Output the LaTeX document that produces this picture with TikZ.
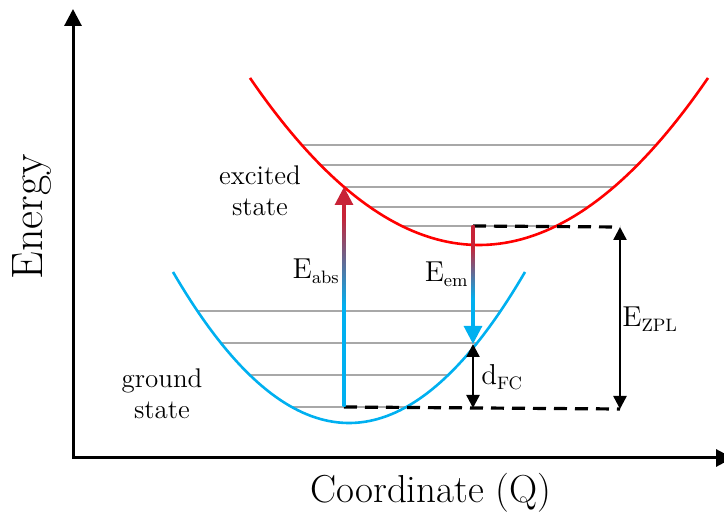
\documentclass[tikz,border=0pt]{standalone}
\usepackage{xcolor}
\usepackage{tikz}
\usetikzlibrary{arrows.meta, calc}
\definecolor{CCRed}{RGB}{255,0,0}
\definecolor{CCBlue}{RGB}{0,176,240}
\definecolor{CCCrimson}{RGB}{200,35,55}
\definecolor{CCGray}{RGB}{168,168,168}
\pgfdeclareverticalshading{absgrad}{100bp}{color(0bp)=(CCBlue); color(50bp)=(CCBlue);
  color(72bp)=(CCCrimson); color(100bp)=(CCCrimson)}
\pgfdeclareverticalshading{emgrad}{100bp}{color(0bp)=(CCBlue); color(39bp)=(CCBlue);
  color(65bp)=(CCCrimson); color(100bp)=(CCCrimson)}

\begin{document}
\begin{tikzpicture}[x=0.5pt, y=-0.5pt,
          level/.style={CCGray, line width=1pt},
          well/.style={line width=1.3pt},
          axis/.style={line width=1.5pt, {Triangle[length=8.5pt, width=8.5pt]}-{Triangle[length=8.5pt, width=8.5pt]}},
          guide/.style={line width=1.6pt, dash pattern=on 6.5pt off 4pt},
          dim/.style={line width=1.2pt, {Triangle[length=6.5pt, width=6.5pt]}-{Triangle[length=6.5pt, width=6.5pt]}},
          lbl/.style={font=\fontsize{13.5}{15.5}\selectfont, align=center, inner sep=0pt},
          tip/.style={line width=1.5pt, -{Triangle[length=9pt, width=9pt]}}
        ]
        \useasboundingbox (0,0) rectangle (724,513);

        % axes
        \coordinate (origin) at (73,458);
        \coordinate (ytop) at (73,9);
        \coordinate (xend) at (733,458);
        \draw[axis] (ytop) -- (origin) -- (xend);
        \node[font=\fontsize{22}{26}\selectfont, rotate=90, anchor=base, inner sep=0pt] (ylab) at (42,217) {Energy};
        \node[font=\fontsize{19.5}{23}\selectfont, anchor=base, inner sep=0pt] (xlab) at (431,503) {Coordinate (Q)};

        % vibrational levels
        \foreach \lv in {145,165,187,207,226}
          \draw[level] ({479-100*sqrt((245-\lv)/31.85)}, \lv) -- ({479+100*sqrt((245-\lv)/31.85)}, \lv);
        \foreach \lv in {311,343,375,407}
          \draw[level] ({349-100*sqrt((423-\lv)/48.75)}, \lv) -- ({349+100*sqrt((423-\lv)/48.75)}, \lv);

        % potential wells
        \draw[well, CCRed] plot[domain=250:708, samples=80] (\x, {245-31.85*((\x-479)/100)^2});
        \draw[well, CCBlue] plot[domain=173:525, samples=80] (\x, {423-48.75*((\x-349)/100)^2});

        \node[lbl] (exc) at (260,191) {excited\\state};
        \node[lbl] (gnd) at (162,394) {ground\\state};

        \coordinate (gAbs) at (344,407);
        \coordinate (eAbs) at (344,187);
        \coordinate (eEm) at (473,226);
        \coordinate (gEm) at (473,344);
        \coordinate (gFC) at (473,408);
        \coordinate (zplTop) at (620,227);
        \coordinate (zplBot) at (620,409);

        \draw[guide] (gAbs) -- (zplBot);
        \draw[guide] (eEm) -- (zplTop);

        % absorption
        \shade[shading=absgrad] ($(gAbs)+(-1.5,0)$) rectangle ($(eAbs)+(1.5,17)$);
        \draw[tip, CCCrimson] ($(eAbs)+(0,19)$) -- (eAbs);
        \node[lbl, anchor=base east] (eabs) at (340,279) {$\mathrm{E}_{\mathrm{abs}}$};

        % emission
        \shade[shading=emgrad] ($(eEm)+(-1.5,0)$) rectangle ($(gEm)+(1.5,-17)$);
        \draw[tip, CCBlue] ($(gEm)+(0,-19)$) -- (gEm);
        \node[lbl, anchor=base east] (eem) at (469,282) {$\mathrm{E}_{\mathrm{em}}$};

        \draw[dim] (gEm) -- (gFC);
        \node[lbl, anchor=base west] (dfc) at (481,385) {$\mathrm{d}_{\mathrm{FC}}$};
        \draw[dim] (zplTop) -- (zplBot);
        \node[lbl, anchor=base west] (ezpl) at (622,327) {$\mathrm{E}_{\mathrm{ZPL}}$};
      \end{tikzpicture}
\end{document}
